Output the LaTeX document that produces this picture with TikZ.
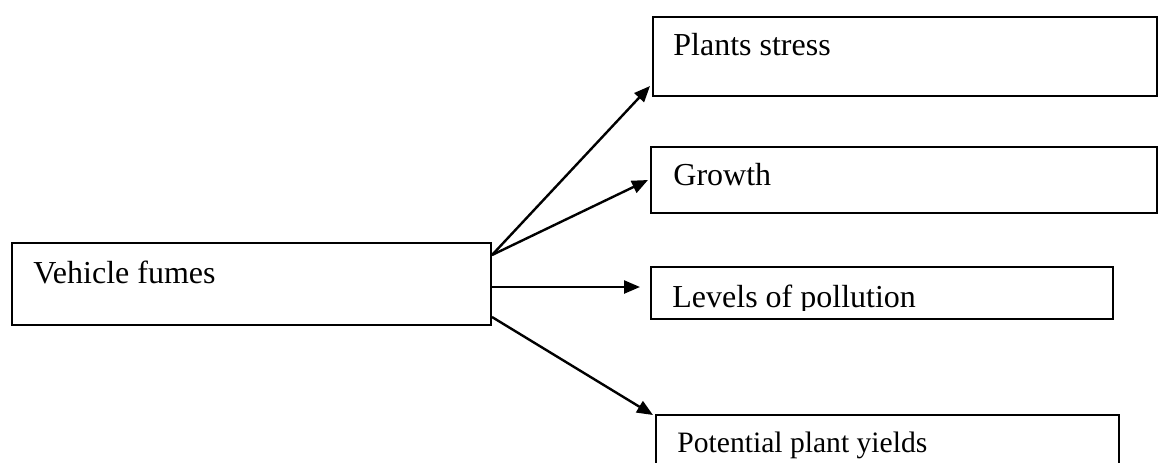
\documentclass[tikz,border=0pt]{standalone}
\usepackage{fontspec}
\setmainfont{Liberation Serif}
\usetikzlibrary{arrows.meta,calc}
\tikzset{
  box/.style={draw, line width=0.65pt, rectangle, inner sep=0pt, outer sep=0pt},
  lbl/.style={anchor=base west, inner sep=0pt, font=\fontsize{16pt}{18pt}\selectfont},
  lblsmall/.style={anchor=base west, inner sep=0pt, font=\fontsize{14.8pt}{17pt}\selectfont},
  conn/.style={line width=1.2pt, -{Triangle[length=8pt,width=6.5pt]}}
}
\begin{document}
\begin{tikzpicture}[x=0.5pt,y=-0.5pt]
\useasboundingbox[fill=white] (0,0) rectangle (1161,462);
% boxes
\node[box, minimum width=239.5pt, minimum height=41pt] (vf) at (251.5,284) {};
\node[box, minimum width=252pt, minimum height=39.5pt] (ps) at (905,56.5) {};
\node[box, minimum width=253pt, minimum height=33pt] (gr) at (904,180) {};
\node[box, minimum width=231pt, minimum height=26pt] (lp) at (882,293) {};
\node[box, minimum width=231.5pt, minimum height=32pt] (py) at (887.5,447) {};
% labels
\node[lbl] (vft) at (33,283) {Vehicle fumes};
\node[lbl] (pst) at (673,55) {Plants stress};
\node[lbl] (grt) at (673,185) {Growth};
\begin{scope}
\clip (651,267) rectangle (1113,310);
\node[lbl] (lpt) at (672,307) {Levels of pollution};
\end{scope}
\node[lblsmall] (pyt) at (677,452) {Potential plant yields};
% connector ends
\coordinate (s1) at ($(vf.north east)+(1,12)$);
\coordinate (s3) at ($(vf.north east)+(1,44)$);
\coordinate (s4) at ($(vf.north east)+(1,74)$);
\coordinate (t1) at ($(ps.south west)+(-3,-10)$);
\coordinate (t2) at ($(gr.north west)+(-3,33)$);
\coordinate (t3) at ($(lp.west)+(-11,-6)$);
\coordinate (t4) at ($(py.north west)+(-3,0)$);
% connectors
\draw[conn] (s1) -- (t1);
\draw[conn] (s1) -- (t2);
\draw[conn] (s3) -- (t3);
\draw[conn] (s4) -- (t4);
\end{tikzpicture}
\end{document}
